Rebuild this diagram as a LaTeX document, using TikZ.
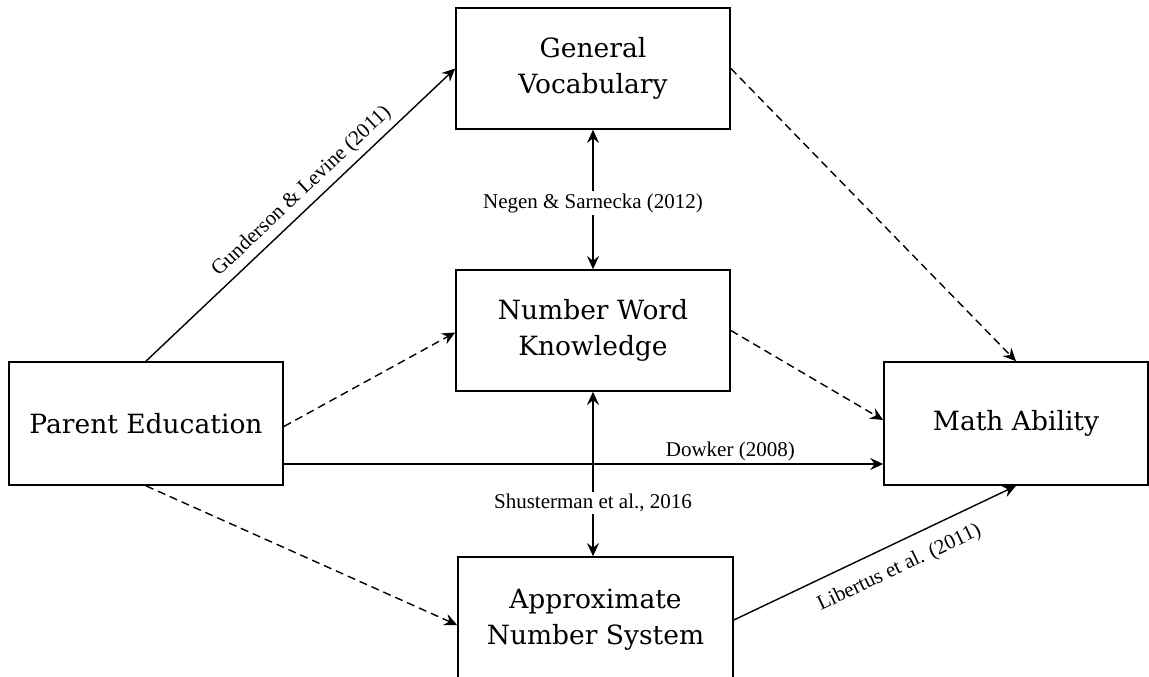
\documentclass[tikz,border=0pt]{standalone}
\usepackage{fontspec}
\setmainfont{Liberation Serif}
\newfontfamily\boxfont{DejaVu Serif}
\usetikzlibrary{arrows.meta}
\begin{document}
\begin{tikzpicture}[x=1pt,y=-1pt,
  box/.style={draw,line width=1.7pt,align=center,inner sep=0pt,
    font=\boxfont\fontsize{26.5}{36}\selectfont},
  conn/.style={line width=1.4pt,-{Stealth[length=13pt,width=12pt,inset=4.5pt]}},
  dconn/.style={conn,dash pattern=on 8pt off 5pt},
  lab/.style={font=\fontsize{21}{24}\selectfont,inner sep=2pt}]
\useasboundingbox (0,0) rectangle (1149,677);
\node[box,minimum width=274,minimum height=121] (gv) at (593,68.5) {General\\Vocabulary};
\node[box,minimum width=274,minimum height=121] (nwk) at (593,330.5) {Number Word\\Knowledge};
\node[box,minimum width=274,minimum height=123] (pe) at (146,423.5) {Parent Education};
\node[box,minimum width=264,minimum height=123] (ma) at (1016,423.5) {Math Ability};
\node[box,minimum width=275,minimum height=126] (ans) at (595.5,620) {Approximate\\Number System};
\node[lab] (neg) at (593,203) {Negen \& Sarnecka (2012)};
\node[lab] (shu) at (593,503) {Shusterman et al., 2016};
\draw[conn] (pe.north) -- node[lab,sloped,above,pos=0.54,yshift=4pt] {Gunderson \& Levine (2011)} (gv.west);
\draw[dconn] ([yshift=-3pt]pe.east) -- ([yshift=-2pt]nwk.west);
\draw[conn] ([yshift=-40.5pt]pe.east) -- node[lab,above,pos=0.745] {Dowker (2008)} ([yshift=-40.5pt]ma.west);
\draw[dconn] (pe.south) -- ([yshift=-5pt]ans.west);
\draw[dconn] (gv.east) -- (ma.north);
\draw[dconn] (nwk.east) -- ([yshift=3.5pt]ma.west);
\draw[conn] (ans.east) -- node[lab,sloped,below,pos=0.55,yshift=-12pt] {Libertus et al. (2011)} (ma.south);
\draw[conn] (neg) -- (gv.south);
\draw[conn] (neg) -- (nwk.north);
\draw[conn] (shu.north) -- (shu.north |- nwk.south);
\draw[conn] (shu.south) -- (shu.south |- ans.north);
\end{tikzpicture}
\end{document}
